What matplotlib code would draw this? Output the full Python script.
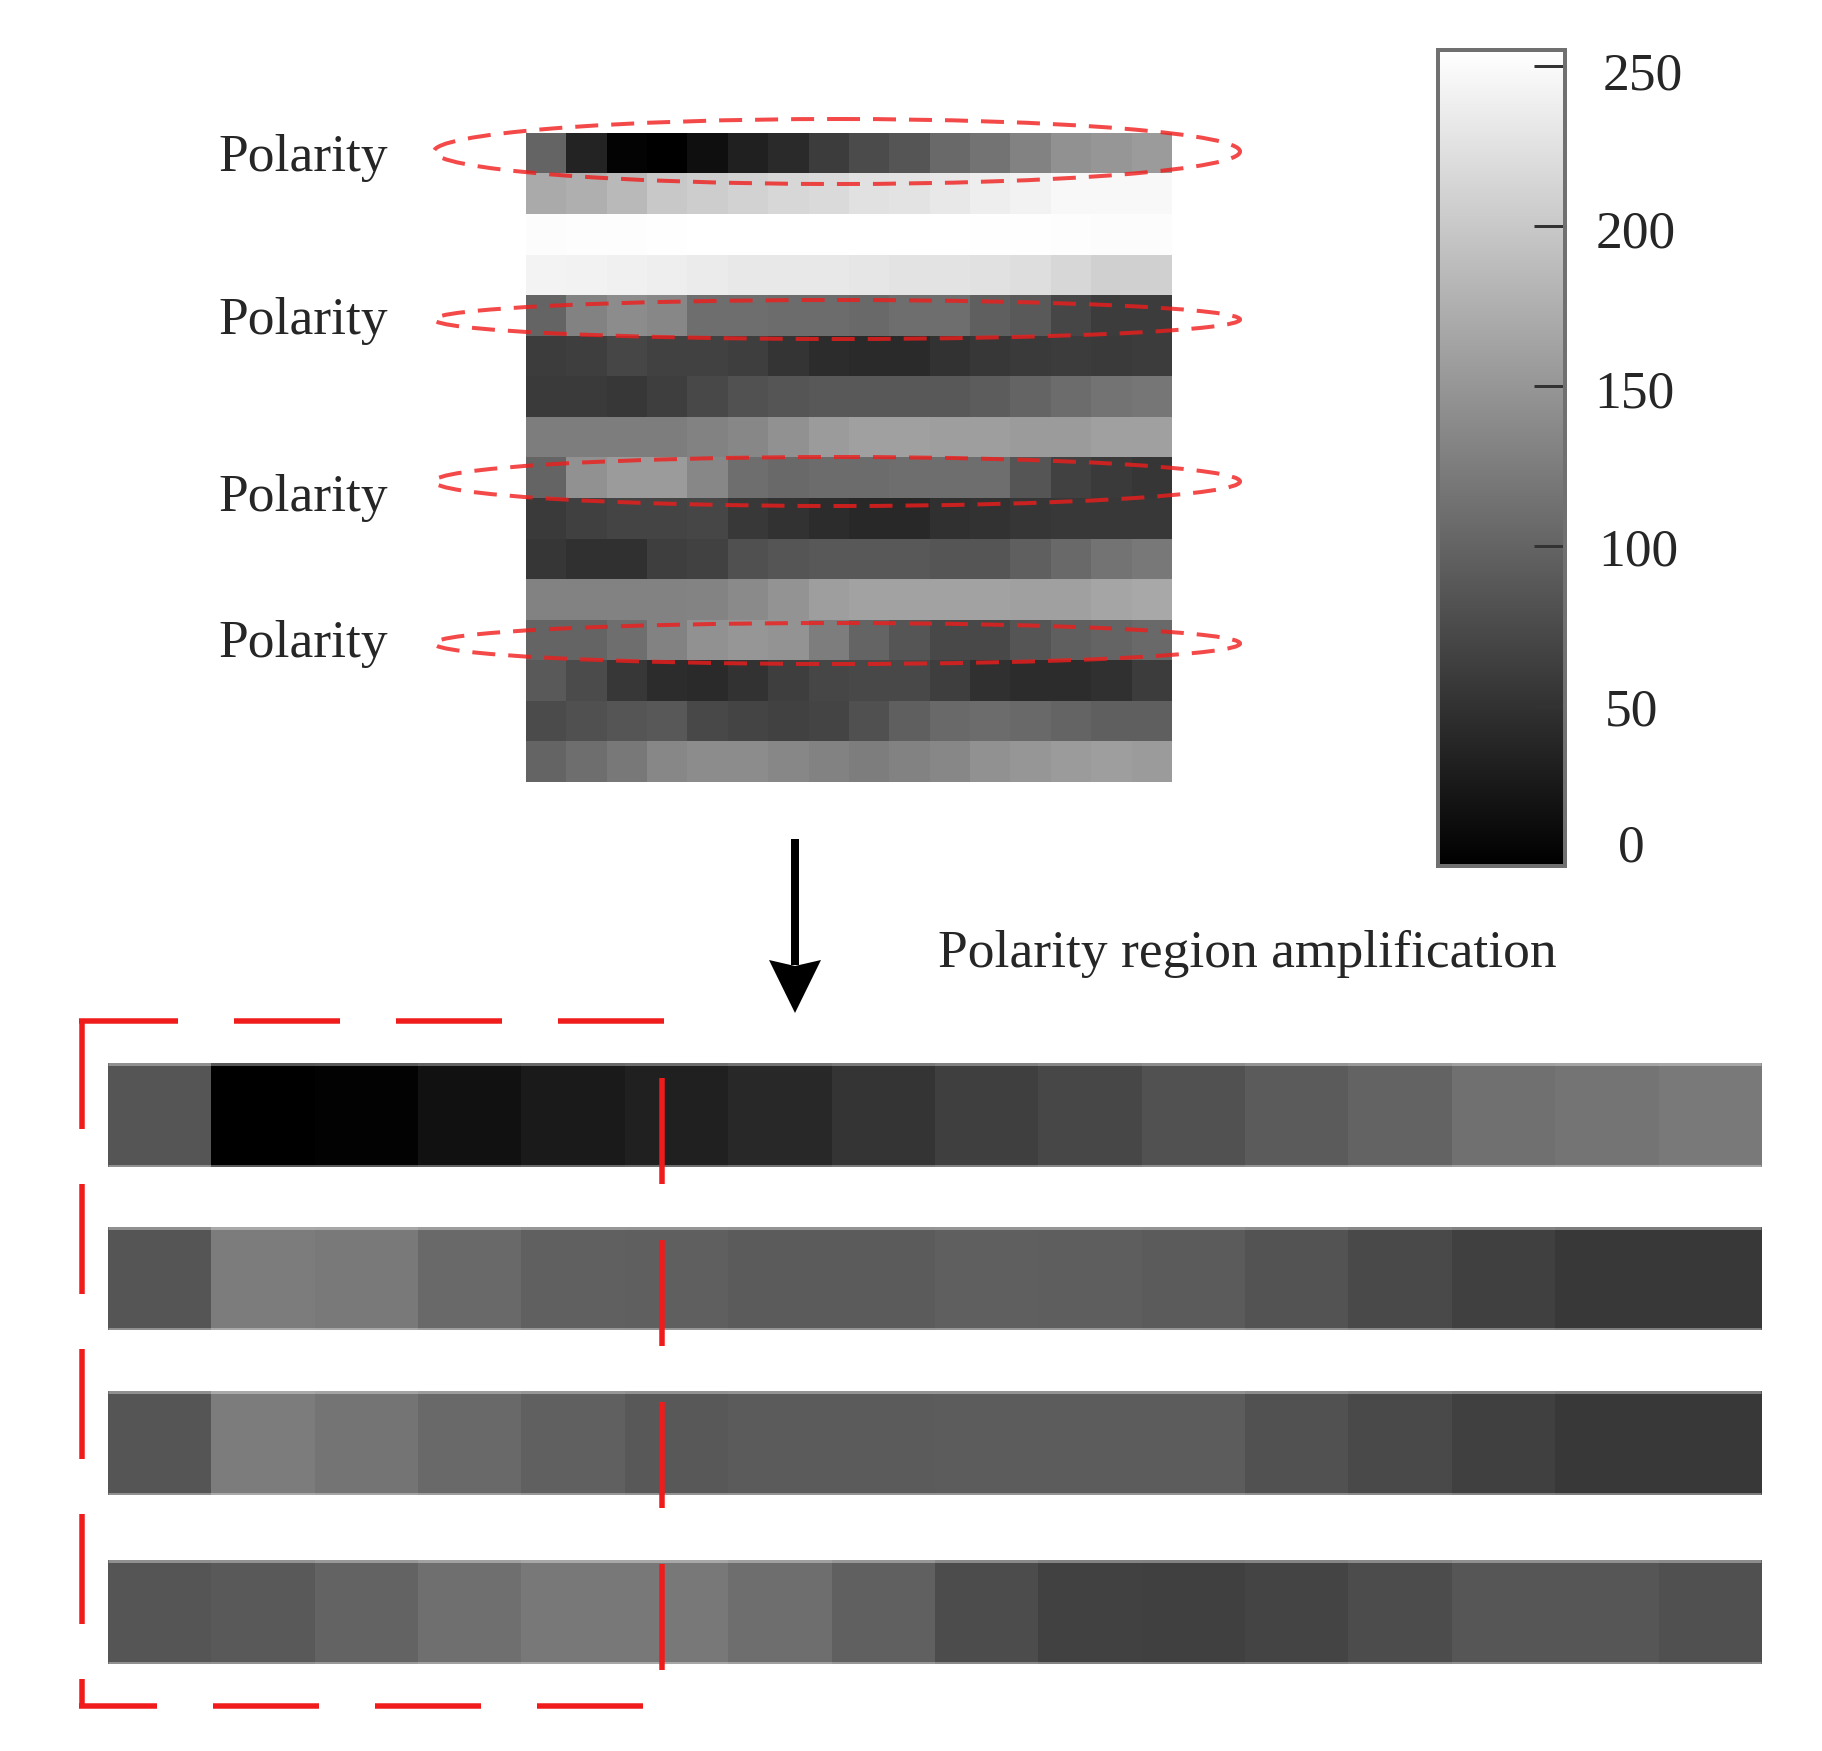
import numpy as np
import matplotlib
matplotlib.use('Agg')
import matplotlib.pyplot as plt
from matplotlib.cm import ScalarMappable
from matplotlib.colors import Normalize
from matplotlib.patches import Ellipse, Polygon

W, H = 1822, 1751

# grey levels, one row per stripe of the map
heat_rows = [
    [100, 35, 3, 0, 15, 32, 42, 60, 75, 85, 105, 115, 130, 145, 150, 155],
    [170, 175, 185, 200, 205, 210, 215, 218, 225, 228, 232, 238, 242, 248, 248, 248],
    [252, 253, 253, 254, 255, 255, 255, 255, 255, 255, 255, 254, 254, 253, 252, 252],
    [243, 242, 240, 238, 235, 232, 232, 232, 230, 228, 228, 225, 222, 215, 208, 208],
    [100, 130, 140, 135, 110, 110, 108, 108, 105, 110, 110, 95, 90, 70, 60, 60],
    [60, 62, 70, 65, 65, 62, 52, 45, 42, 42, 50, 55, 58, 60, 58, 60],
    [58, 58, 55, 62, 72, 82, 85, 88, 88, 88, 88, 92, 100, 108, 115, 118],
    [125, 125, 125, 125, 130, 135, 145, 155, 160, 160, 158, 158, 155, 155, 160, 160],
    [100, 145, 155, 155, 135, 110, 105, 108, 108, 110, 110, 110, 85, 65, 58, 54],
    [58, 64, 68, 68, 70, 56, 50, 44, 40, 40, 48, 50, 54, 57, 57, 57],
    [54, 48, 48, 62, 66, 80, 85, 88, 88, 88, 85, 85, 95, 105, 115, 120],
    [130, 130, 130, 130, 132, 138, 148, 158, 162, 162, 162, 162, 160, 160, 165, 168],
    [100, 100, 110, 130, 145, 150, 148, 125, 100, 85, 72, 72, 85, 95, 100, 105],
    [90, 75, 55, 44, 42, 50, 62, 70, 72, 72, 62, 48, 44, 44, 48, 60],
    [75, 80, 85, 88, 72, 68, 65, 68, 80, 95, 105, 108, 105, 100, 95, 95],
    [100, 110, 120, 135, 140, 140, 135, 130, 125, 130, 135, 145, 150, 155, 158, 155],
]

# the four amplified polarity rows
strip1 = [85, 0, 2, 17, 26, 32, 40, 52, 63, 71, 82, 91, 99, 112, 116, 122]
strip2 = [85, 124, 122, 105, 96, 95, 91, 91, 95, 94, 91, 83, 73, 64, 57, 57]
strip3 = [85, 124, 116, 105, 96, 88, 91, 91, 92, 92, 92, 82, 73, 64, 57, 57]
strip4 = [85, 90, 99, 111, 120, 120, 110, 96, 76, 66, 64, 68, 76, 86, 86, 80]

cbar_ticks = [0, 50, 100, 150, 200, 250]
polarity_label = 'Polarity'
amp_label = 'Polarity region amplification'

plt.rcParams['font.family'] = ['Liberation Serif', 'DejaVu Serif']
TEXT = '#262626'
RED = '#f01c1c'
FS = 38.5

fig = plt.figure(figsize=(W / 100, H / 100), dpi=100, facecolor='white')


def box(x0, y0, x1, y1):
    # pixel box (y down) to figure fraction
    return [x0 / W, 1 - y1 / H, (x1 - x0) / W, (y1 - y0) / H]


def px(p):
    return p * 72 / 100


norm = Normalize(0, 255)

# main map
ax_map = fig.add_axes(box(526, 133, 1171, 782))
ax_map.imshow(np.array(heat_rows), cmap='gray', norm=norm, aspect='auto', interpolation='nearest')
ax_map.axis('off')

# colour bar
cax = fig.add_axes(box(1438, 50, 1565, 866))
cb = fig.colorbar(ScalarMappable(norm=norm, cmap='gray'), cax=cax, ticks=cbar_ticks)
cb.outline.set_edgecolor('#707070')
cb.outline.set_linewidth(px(4))
cax.tick_params(direction='in', length=px(31), width=px(3), color='#333333', labelright=False)
label_shift = {250: (78, -10), 200: (71, -9), 150: (69, -8), 100: (73, -7), 50: (67, -7), 0: (66, 18)}
for v in cbar_ticks:
    dx, dy = label_shift[v]
    cax.annotate(str(v), xy=(1, v), xycoords=('axes fraction', 'data'),
                 xytext=(dx, dy), textcoords='offset pixels',
                 ha='center', va='center', fontsize=FS, color=TEXT)

# amplified rows
strip_boxes = [(1063, 1167), (1227, 1330), (1391, 1495), (1560, 1664)]
for row, (y0, y1) in zip([strip1, strip2, strip3, strip4], strip_boxes):
    a = fig.add_axes(box(108, y0, 1761, y1))
    a.imshow(np.array([row]), cmap='gray', norm=norm, aspect='auto', interpolation='nearest')
    a.axis('off')

# overlay in pixel coordinates for the hand-drawn marks
ov = fig.add_axes([0, 0, 1, 1], zorder=5)
ov.set_xlim(0, W)
ov.set_ylim(H, 0)
ov.axis('off')
ov.patch.set_alpha(0)

# soft light edge along each amplified row
for y0, y1 in strip_boxes:
    ov.plot([108, 1761], [y0 + 1, y0 + 1], color='white', lw=px(3), alpha=0.35, solid_capstyle='butt')
    ov.plot([108, 1761], [y1 - 1, y1 - 1], color='white', lw=px(3), alpha=0.35, solid_capstyle='butt')

for base in [171, 334, 511, 657]:
    ov.text(218, base, polarity_label, fontsize=FS, color=TEXT, ha='left', va='baseline')
ov.text(938, 967, amp_label, fontsize=FS, color=TEXT, ha='left', va='baseline')

for (y0, y1) in [(119, 184), (300, 339), (457, 506), (623, 664)]:
    ov.add_patch(Ellipse((837, (y0 + y1) / 2), 806, y1 - y0, fill=False, edgecolor=RED,
                         lw=px(4), alpha=0.8, linestyle=(0, (23 / 4, 13 / 4))))

# arrow
ov.plot([795, 795], [839, 965], color='black', lw=px(8), solid_capstyle='butt')
ov.add_patch(Polygon([[769, 960], [795, 966], [821, 960], [795, 1013]], closed=True, color='black', lw=0))

# dashed L frame and the dashed cut line
lw_px = 5.5
def dash_line(xs, ys, on, off):
    ov.plot(xs, ys, color=RED, lw=px(lw_px), dash_capstyle='butt',
            linestyle=(0, (on / lw_px, off / lw_px)))

dash_line([664, 79], [1021, 1021], 106, 56)
dash_line([82, 82], [1019, 1708], 110, 55)
dash_line([643, 79], [1706, 1706], 106, 56)
dash_line([662, 662], [1078, 1671], 106, 56)

fig.savefig('out.png', dpi=100, facecolor='white')
